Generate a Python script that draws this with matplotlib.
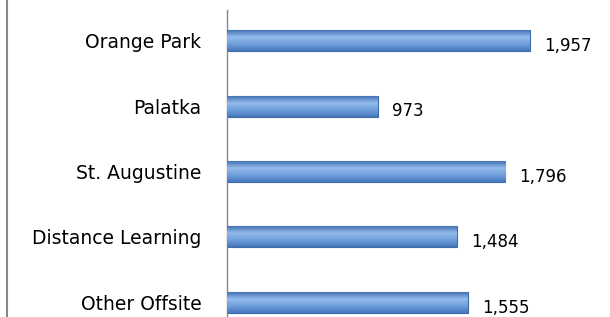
import numpy as np
import matplotlib.pyplot as plt
from matplotlib.lines import Line2D
from matplotlib.colors import LinearSegmentedColormap

# DATA
categories = ["Orange Park", "Palatka", "St. Augustine", "Distance Learning", "Other Offsite"]
values = [1957, 973, 1796, 1484, 1555]

plt.rcParams['font.family'] = ['DejaVu Sans']

fig = plt.figure(figsize=(6.10, 3.17), dpi=100)
ax = fig.add_axes([227/610, -18/317, 383/610, 325/317])

y = np.arange(len(categories))
bars = ax.barh(y, values, height=0.32, color='#5B8ED2', edgecolor='#3D6BA8', linewidth=0.8, zorder=2)

# gradient fill to mimic the bevelled bars
cmap = LinearSegmentedColormap.from_list('bev', ['#4574B5', '#93BAEA', '#6F9FDC', '#4677BC'])
grad = np.linspace(0, 1, 64).reshape(-1, 1)
for b in bars:
    x0, y0, w, h = b.get_x(), b.get_y(), b.get_width(), b.get_height()
    im = ax.imshow(grad, cmap=cmap, aspect='auto', extent=(x0, x0 + w, y0 + h, y0), zorder=3)
    im.set_clip_path(b)

for yi, v in zip(y, values):
    ax.text(v + 90, yi + 0.08, f"{v:,}", va='center', ha='left', fontsize=12, color='black')

ax.set_ylim(len(categories) - 0.5, -0.47)
ax.set_xlim(0, 2474)
ax.set_yticks(y)
ax.set_yticklabels(categories, fontsize=13.5)
ax.tick_params(axis='y', length=0, pad=18.5)
ax.set_xticks([])
for s in ['top', 'right', 'bottom']:
    ax.spines[s].set_visible(False)
ax.spines['left'].set_color('#888888')
ax.spines['left'].set_linewidth(1)

fig.add_artist(Line2D([7/610, 7/610], [0, 1], color='#888888', linewidth=1.5))

fig.savefig('out.png', dpi=100)
